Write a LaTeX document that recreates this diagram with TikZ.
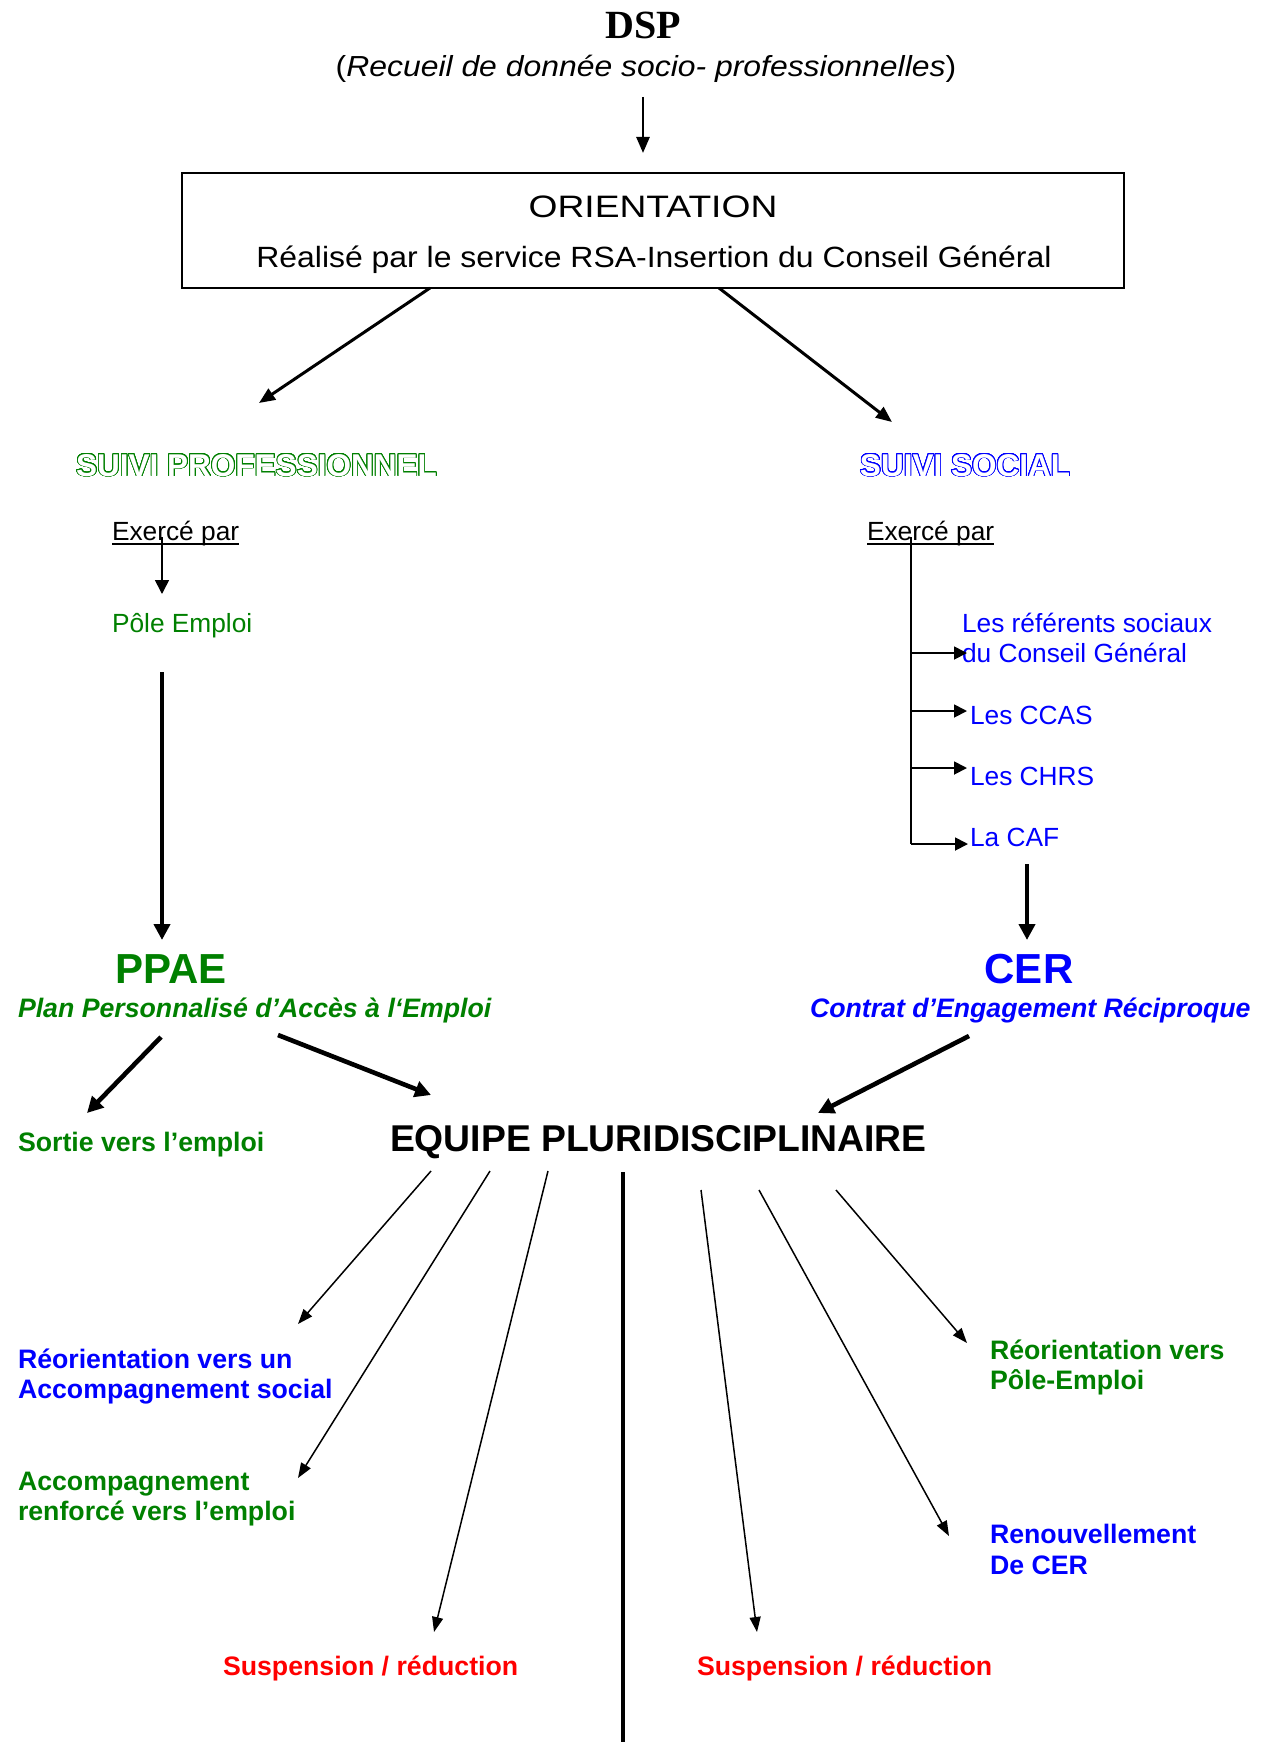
\documentclass[tikz,border=0pt]{standalone}
\usepackage{fontspec}
\setmainfont{Liberation Sans}
\newfontfamily\dspfont{Liberation Serif}
\newfontfamily\subfont{Liberation Sans}[FakeStretch=1.1]
\newfontfamily\refont{Liberation Sans}[FakeStretch=1.09]
\newfontfamily\orfont{Liberation Sans}[FakeStretch=1.2]
\usepackage[copies]{contour}
\contourlength{0.8pt}
\contournumber{32}
\usetikzlibrary{arrows.meta}
\definecolor{pgreen}{RGB}{0,128,0}
\definecolor{pblue}{RGB}{0,0,255}
\definecolor{pred}{RGB}{255,0,0}
\newcommand\myul[1]{\setbox0=\hbox{#1}\rlap{\rule[-5pt]{\wd0}{1.8pt}}\box0}
\begin{document}
\begin{tikzpicture}[x=1pt,y=-1pt,
  every node/.style={inner sep=0pt,outer sep=0pt},
  reg/.style={font=\fontsize{26.3}{29}\selectfont, anchor=base west},
  bld/.style={font=\bfseries\fontsize{26.7}{29.5}\selectfont, anchor=base west},
  bldit/.style={font=\bfseries\itshape\fontsize{26.7}{29.5}\selectfont, anchor=base west},
  outl/.style={font=\bfseries\fontsize{31.5}{34}\selectfont, anchor=base, text=white},
  thinarrow/.style={line width=1.5pt,-{Triangle[length=15pt,width=11pt]}},
  midarrow/.style={line width=2.6pt,-{Triangle[length=16pt,width=13pt]}},
  smallarrow/.style={line width=1.6pt,-{Triangle[length=14pt,width=14pt]}},
  treeline/.style={line width=1.8pt},
  treearrow/.style={line width=1.8pt,-{Triangle[length=13pt,width=13pt]}},
  thickarrow/.style={line width=4.6pt,-{Triangle[length=16pt,width=16pt]}},
  thickline/.style={line width=4.6pt},
]
\useasboundingbox (0,0) rectangle (1262,1742);

% ---- top ----
\node[font=\dspfont\bfseries\fontsize{40}{40}\selectfont, anchor=base] (dsp) at (643,39) {DSP};
\node[font=\subfont\fontsize{29}{32}\selectfont, anchor=base] (recueil) at (646,77)
  {(\textit{Recueil de donnée socio- professionnelles})};
\coordinate (dspA) at (643,97);
\coordinate (dspB) at (643,153);
\draw[midarrow] (dspA) -- (dspB);

\node[draw, line width=2.5pt, minimum width=942pt, minimum height=115pt, anchor=north west] (orient) at (182,173) {};
\node[font=\orfont\fontsize{31}{32}\selectfont, anchor=base] (ortitle) at (653,217) {ORIENTATION};
\node[font=\refont\fontsize{29.3}{32}\selectfont, anchor=base] (orsub) at (654,267)
  {Réalisé par le service RSA-Insertion du Conseil Général};

\coordinate (oL) at (430,288);
\coordinate (oLt) at (259,403);
\coordinate (oR) at (719,288);
\coordinate (oRt) at (892,422);
\draw[midarrow, line width=3pt] (oL) -- (oLt);
\draw[midarrow, line width=3pt] (oR) -- (oRt);

% ---- left column ----
\node[outl] (suivip) at (256.5,476) {\contour{pgreen}{SUIVI PROFESSIONNEL}};
\node[reg] (exl) at (112,540) {\myul{Exercé par}};
\coordinate (exlA) at (162,537);
\coordinate (exlB) at (162,594);
\draw[smallarrow] (exlA) -- (exlB);
\node[reg, text=pgreen] (pole) at (112,632) {Pôle Emploi};
\coordinate (poleA) at (162,672);
\coordinate (poleB) at (162,940);
\draw[thickarrow] (poleA) -- (poleB);

\node[font=\bfseries\fontsize{42}{44}\selectfont, anchor=base, text=pgreen] (ppae) at (171,983) {PPAE};
\node[bldit, text=pgreen] (plan) at (18,1017) {Plan Personnalisé d’Accès à l‘Emploi};

% ---- right column ----
\node[outl] (suivis) at (965,476) {\contour{pblue}{SUIVI SOCIAL}};
\node[reg] (exr) at (867,540) {\myul{Exercé par}};
\node[reg, text=pblue] (ref1) at (962,632) {Les référents sociaux};
\node[reg, text=pblue] (ref2) at (962,662) {du Conseil Général};
\node[reg, text=pblue] (ccas) at (970,724) {Les CCAS};
\node[reg, text=pblue] (chrs) at (970,785) {Les CHRS};
\node[reg, text=pblue] (caf) at (970,846) {La CAF};

\coordinate (tTop) at (911,537);
\coordinate (tBot) at (911,844);
\coordinate (t1) at (911,653);
\coordinate (t2) at (911,711);
\coordinate (t3) at (911,768);
\coordinate (h1) at (967,653);
\coordinate (h2) at (967,711);
\coordinate (h3) at (967,768);
\coordinate (h4) at (968,844);
\draw[treeline] (tTop) -- (tBot);
\draw[treearrow] (t1) -- (h1);
\draw[treearrow] (t2) -- (h2);
\draw[treearrow] (t3) -- (h3);
\draw[treearrow] (tBot) -- (h4);

\coordinate (cafA) at (1027,864);
\coordinate (cafB) at (1027,940);
\draw[thickarrow] (cafA) -- (cafB);

\node[font=\bfseries\fontsize{42}{44}\selectfont, anchor=base, text=pblue] (cer) at (1029,983) {CER};
\node[bldit, text=pblue] (contrat) at (810,1017) {Contrat d’Engagement Réciproque};

% ---- equipe ----
\node[bld, text=pgreen] (sortie) at (18,1151) {Sortie vers l’emploi};
\node[font=\bfseries\fontsize{37.3}{40}\selectfont, anchor=base west] (equipe) at (390,1151) {EQUIPE PLURIDISCIPLINAIRE};

\coordinate (pp1) at (161,1037);
\coordinate (pp1t) at (87,1113);
\coordinate (pp2) at (278,1035);
\coordinate (pp2t) at (431,1095);
\coordinate (ce1) at (969,1036);
\coordinate (ce1t) at (818,1113);
\draw[thickarrow] (pp1) -- (pp1t);
\draw[thickarrow] (pp2) -- (pp2t);
\draw[thickarrow] (ce1) -- (ce1t);

\coordinate (e1) at (431,1171);
\coordinate (e1t) at (298,1324);
\coordinate (e2) at (490,1171);
\coordinate (e2t) at (298,1478);
\coordinate (e3) at (548,1171);
\coordinate (e3t) at (434,1632);
\coordinate (e4) at (701,1190);
\coordinate (e4t) at (757,1632);
\coordinate (e5) at (759,1190);
\coordinate (e5t) at (949,1536);
\coordinate (e6) at (836,1190);
\coordinate (e6t) at (967,1343);
\draw[thinarrow] (e1) -- (e1t);
\draw[thinarrow] (e2) -- (e2t);
\draw[thinarrow] (e3) -- (e3t);
\draw[thinarrow] (e4) -- (e4t);
\draw[thinarrow] (e5) -- (e5t);
\draw[thinarrow] (e6) -- (e6t);

\coordinate (vTop) at (623,1172);
\coordinate (vBot) at (623,1742);
\draw[thickline] (vTop) -- (vBot);

\node[bld, text=pblue] (reo1) at (18,1368) {Réorientation vers un};
\node[bld, text=pblue] (reo2) at (18,1398) {Accompagnement social};
\node[bld, text=pgreen] (acc1) at (18,1490) {Accompagnement};
\node[bld, text=pgreen] (acc2) at (18,1520) {renforcé vers l’emploi};
\node[bld, text=pred] (susl) at (223,1675) {Suspension / réduction};
\node[bld, text=pred] (susr) at (697,1675) {Suspension / réduction};
\node[bld, text=pgreen] (rpe1) at (990,1359) {Réorientation vers};
\node[bld, text=pgreen] (rpe2) at (990,1389) {Pôle-Emploi};
\node[bld, text=pblue] (ren1) at (990,1543) {Renouvellement};
\node[bld, text=pblue] (ren2) at (990,1574) {De CER};
\end{tikzpicture}
\end{document}
